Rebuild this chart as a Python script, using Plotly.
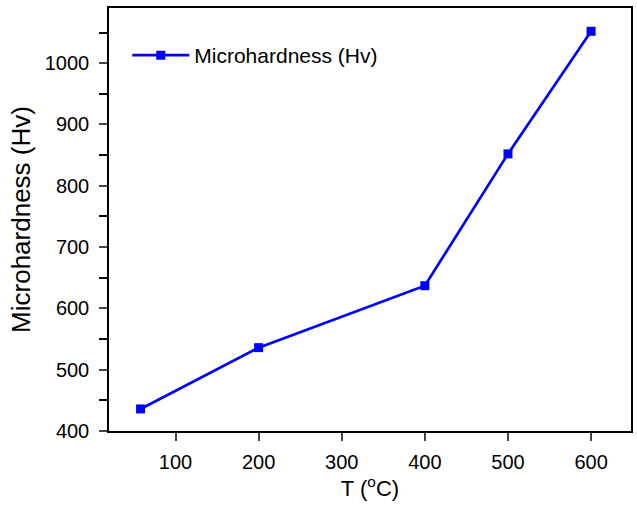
import plotly.graph_objects as go

temps = [58, 200, 400, 500, 600]
hardness = [436, 536, 637, 852, 1052]
series_name = "Microhardness (Hv)"
x_ticks = [100, 200, 300, 400, 500, 600]
y_ticks = [400, 500, 600, 700, 800, 900, 1000]

color = "#0000ff"
font = "Liberation Sans, Arial, sans-serif"

fig = go.Figure()
fig.add_trace(go.Scatter(
    x=temps, y=hardness, mode="lines+markers", name=series_name,
    line=dict(color=color, width=2.7),
    marker=dict(symbol="square", size=9, color=color),
))

fig.update_layout(
    width=637, height=506,
    margin=dict(l=109, r=4, t=8, b=75),
    paper_bgcolor="white", plot_bgcolor="white",
    font=dict(family=font, size=20, color="black"),
    showlegend=True,
    legend=dict(x=0.035, y=0.936, xanchor="left", yanchor="top",
                bgcolor="rgba(0,0,0,0)", font=dict(size=21), itemwidth=57),
)
fig.update_xaxes(
    range=[20, 648], tickvals=x_ticks, ticks="outside", ticklen=8, tickwidth=1.5,
    ticklabelstandoff=4,
    showline=True, linecolor="black", linewidth=1.5, mirror=True, showgrid=False,
    zeroline=False, title=dict(text="T (<sup>o</sup>C)", font=dict(size=22), standoff=7),
)
fig.update_yaxes(
    range=[400, 1090], tickvals=y_ticks, ticks="outside", ticklen=8, tickwidth=1.5,
    ticklabelstandoff=6,
    minor=dict(dtick=50, ticks="outside", ticklen=8, tickwidth=1.5, tickcolor="black"),
    showline=True, linecolor="black", linewidth=1.5, mirror=True, showgrid=False,
    zeroline=False, title=dict(text="Microhardness (Hv)", font=dict(size=26), standoff=7),
)

fig.write_html("out.html")
